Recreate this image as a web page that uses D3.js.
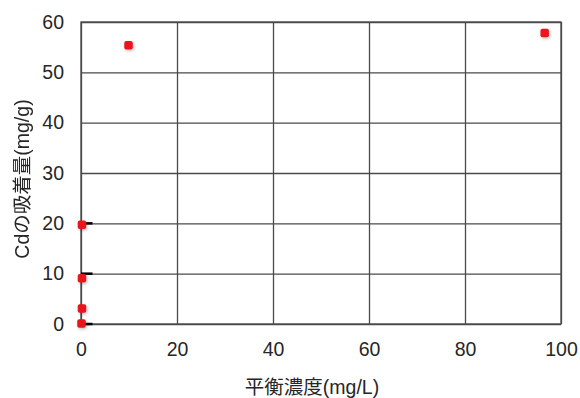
<!DOCTYPE html>
<html>
<head>
<meta charset="utf-8">
<script src="https://cdnjs.cloudflare.com/ajax/libs/d3/7.8.5/d3.min.js"></script>
<style>
  body { margin: 0; background: #fff; }
  text { font-family: "Liberation Sans", "Noto Sans CJK JP", Arial, sans-serif; fill: #262626; }
</style>
</head>
<body>
<svg width="580" height="398"></svg>
<script>
const xValues = [9.9, 96.6, 0.2, 0.2, 0.2, 0.1];
const yValues = [55.4, 57.8, 19.7, 9.1, 3.1, 0.1];
const xTicks = [0, 20, 40, 60, 80, 100];
const yTicks = [0, 10, 20, 30, 40, 50, 60];
const stubY = [0, 10, 20];
const xAxisLabel = '平衡濃度(mg/L)';
const yAxisLabel = 'Cdの吸着量(mg/g)';

const svg = d3.select('svg');
const width = +svg.attr('width');
const height = +svg.attr('height');

const margin = { top: 22, right: 19, bottom: 74, left: 81 };
const innerWidth = width - margin.left - margin.right;
const innerHeight = height - margin.top - margin.bottom;

const defs = svg.append('defs');
const f = defs.append('filter').attr('id', 'shadow')
  .attr('x', '-50%').attr('y', '-50%').attr('width', '200%').attr('height', '200%');
f.append('feDropShadow')
  .attr('dx', 1).attr('dy', 1.5).attr('stdDeviation', 1.5)
  .attr('flood-color', '#000').attr('flood-opacity', 0.25);

const xScale = d3.scaleLinear().domain([0, 100]).range([0, innerWidth]);
const yScale = d3.scaleLinear().domain([0, 60]).range([innerHeight, 0]);

const g = svg.append('g')
  .attr('transform', `translate(${margin.left}, ${margin.top})`);

const xAxis = d3.axisBottom(xScale)
  .tickValues(xTicks)
  .tickSize(-innerHeight)
  .tickPadding(18);

const yAxis = d3.axisLeft(yScale)
  .tickValues(yTicks)
  .tickSize(-innerWidth)
  .tickPadding(17);

const xAxisG = g.append('g')
  .attr('transform', `translate(0, ${innerHeight})`)
  .call(xAxis);
const yAxisG = g.append('g').call(yAxis);

[xAxisG, yAxisG].forEach(a => {
  a.select('.domain').remove();
  a.selectAll('.tick line').attr('stroke', '#4a4a4a').attr('stroke-width', 1.3);
  a.selectAll('.tick text')
    .style('font-size', '19.5px')
    .style('font-family', '"Liberation Sans", Arial, sans-serif')
    .attr('fill', '#262626');
});

g.append('rect')
  .attr('width', innerWidth)
  .attr('height', innerHeight)
  .attr('fill', 'none')
  .attr('stroke', '#4a4a4a')
  .attr('stroke-width', 1.3);

g.selectAll('.stub').data(stubY)
  .enter().append('line')
  .attr('class', 'stub')
  .attr('x1', xScale(0))
  .attr('x2', xScale(2.4))
  .attr('y1', d => yScale(d))
  .attr('y2', d => yScale(d))
  .attr('stroke', '#000')
  .attr('stroke-width', 2.5);

const points = xValues.map((x, i) => ({ x, y: yValues[i] }));
const size = 8.5;
g.selectAll('.pt').data(points)
  .enter().append('rect')
  .attr('class', 'pt')
  .attr('x', d => xScale(d.x) - size / 2)
  .attr('y', d => yScale(d.y) - size / 2)
  .attr('width', size)
  .attr('height', size)
  .attr('rx', 2)
  .attr('fill', '#e8161f')
  .attr('filter', 'url(#shadow)');

svg.append('text')
  .attr('x', 312)
  .attr('y', 394)
  .attr('text-anchor', 'middle')
  .style('font-size', '19.5px')
  .text(xAxisLabel);

svg.append('g')
  .attr('opacity', 0.999)
  .append('text')
  .attr('transform', `translate(29, ${margin.top + innerHeight / 2 + 6}) rotate(-90)`)
  .attr('text-anchor', 'middle')
  .style('font-size', '19.5px')
  .text(yAxisLabel);
</script>
</body>
</html>
